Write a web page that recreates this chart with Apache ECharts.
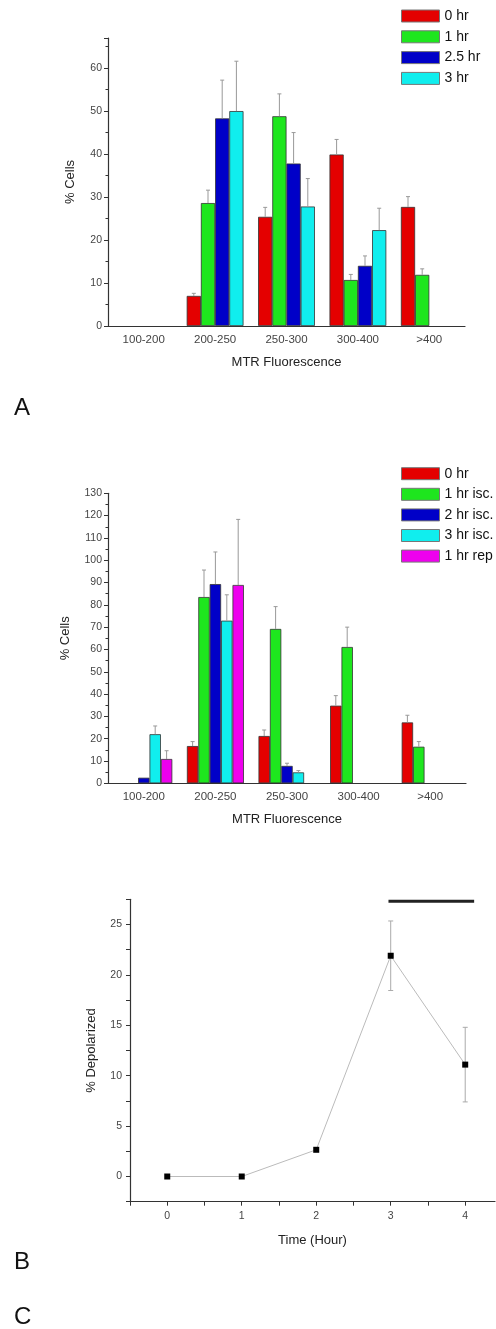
<!DOCTYPE html>
<html><head><meta charset="utf-8">
<script src="https://cdn.jsdelivr.net/npm/echarts@6/dist/echarts.min.js"></script>
<style>html,body{margin:0;padding:0;background:#fff}#c{width:496px;height:1329px}</style>
</head><body><div id="c"></div>
<script>
// ---------- DATA ----------
const categories = ['100-200', '200-250', '250-300', '300-400', '>400'];

// Panel A
const namesA = ['0 hr', '1 hr', '2.5 hr', '3 hr'];
const a0 = [null, 7.0, 25.4, 39.9, 27.7];
const a1 = [null, 28.6, 48.8, 10.7, 11.9];
const a25 = [null, 48.3, 37.8, 14.0, null];
const a3 = [null, 50.0, 27.8, 22.3, null];
const errA0 = [null, 0.6, 2.2, 3.5, 2.4];
const errA1 = [null, 3.0, 5.2, 1.3, 1.4];
const errA25 = [null, 8.9, 7.2, 2.3, null];
const errA3 = [null, 11.6, 6.5, 5.1, null];

// Panel B
const namesB = ['0 hr', '1 hr isc.', '2 hr isc.', '3 hr isc.', '1 hr rep'];
const b0 = [null, 16.7, 21.2, 34.8, 27.3];
const b1 = [null, 83.5, 69.2, 61.1, 16.4];
const b2 = [2.5, 89.3, 7.8, null, null];
const b3 = [22.0, 72.9, 4.9, null, null];
const bRep = [10.9, 88.9, null, null, null];
const errB0 = [null, 2.0, 2.7, 4.5, 3.2];
const errB1 = [null, 12.1, 10.0, 8.9, 2.3];
const errB2 = [0, 14.4, 1.2, null, null];
const errB3 = [3.7, 11.6, 0.8, null, null];
const errBRep = [3.7, 29.4, null, null, null];

// Panel C
const timeC = [0, 1, 2, 3, 4];
const depolC = [0, 0, 2.65, 21.9, 11.1];
const errC = [0, 0, 0.3, 3.45, 3.7];
const sigBarC = [[2.97, 27.3], [4.12, 27.3]];

// ---------- STYLE ----------
const colorsA = ['#e40000', '#1ee61e', '#0000c8', '#10eeee'];
const colorsB = ['#e40000', '#1ee61e', '#0000c8', '#10eeee', '#ee00ee'];
const FONT = 'Liberation Sans, Arial, sans-serif';
const axisCol = '#333';
const labCol = '#444';

function barSeries(name, data, color, xi, yi, bw) {
  return {
    type: 'bar', name, data, xAxisIndex: xi, yAxisIndex: yi,
    barWidth: bw, barGap: '0%',
    itemStyle: { color, borderColor: '#333', borderWidth: 0.8 },
    emphasis: { disabled: true }, animation: false
  };
}
function errSeries(vals, errs, idx, n, bw, xi, yi) {
  const data = [];
  vals.forEach((v, i) => { if (v != null && errs[i] != null && errs[i] > 0) data.push([i, v, v + errs[i]]); });
  return {
    type: 'custom', xAxisIndex: xi, yAxisIndex: yi, data, clip: false, silent: true, animation: false, z: 3,
    renderItem(params, api) {
      const lo = api.coord([api.value(0), api.value(1)]);
      const hi = api.coord([api.value(0), api.value(2)]);
      const off = (idx - (n - 1) / 2) * bw;
      const x = lo[0] + off;
      return { type: 'group', children: [
        { type: 'line', shape: { x1: x, y1: lo[1], x2: x, y2: hi[1] }, style: { stroke: '#999', lineWidth: 1 } },
        { type: 'line', shape: { x1: x - 2, y1: hi[1], x2: x + 2, y2: hi[1] }, style: { stroke: '#999', lineWidth: 1 } }
      ] };
    }
  };
}

function catAxes(gi) {
  return [
    { type: 'category', gridIndex: gi, data: categories, boundaryGap: true,
      axisLine: { lineStyle: { color: axisCol, width: 1.2 } },
      axisTick: { alignWithLabel: true, length: 4, lineStyle: { color: axisCol } },
      axisLabel: { color: labCol, fontSize: 11.5, fontFamily: FONT, margin: 8 },
      name: 'MTR Fluorescence', nameLocation: 'middle', nameGap: 30,
      nameTextStyle: { color: '#222', fontSize: 13, fontFamily: FONT } },
    { type: 'category', gridIndex: gi, data: categories, boundaryGap: true,
      axisLine: { show: false }, axisLabel: { show: false },
      axisTick: { inside: true, length: 3, lineStyle: { color: axisCol } } }
  ];
}
function valAxis(gi, max, interval, nameGap) {
  return { type: 'value', gridIndex: gi, min: 0, max, interval,
    splitLine: { show: false },
    axisLine: { show: true, lineStyle: { color: axisCol, width: 1.2 } },
    axisTick: { show: true, length: 4, lineStyle: { color: axisCol } },
    minorTick: { show: true, splitNumber: 2, length: 2.5, lineStyle: { color: axisCol } },
    axisLabel: { color: labCol, fontSize: 10.5, fontFamily: FONT, margin: 6,
      formatter: v => (Math.abs(v / interval - Math.round(v / interval)) < 1e-6 ? String(v) : '') },
    name: '% Cells', nameLocation: 'middle', nameGap,
    nameTextStyle: { color: '#222', fontSize: 13, fontFamily: FONT } };
}

const series = [];
const valsA = [a0, a1, a25, a3], errsA = [errA0, errA1, errA25, errA3];
const bwA = 14.2;
namesA.forEach((n, i) => series.push(barSeries(n, valsA[i], colorsA[i], 0, 0, bwA)));
namesA.forEach((n, i) => series.push(errSeries(valsA[i], errsA[i], i, 4, bwA, 0, 0)));
const valsB = [b0, b1, b2, b3, bRep], errsB = [errB0, errB1, errB2, errB3, errBRep];
const bwB = 11.4;
namesB.forEach((n, i) => series.push(barSeries(n, valsB[i], colorsB[i], 2, 1, bwB)));
namesB.forEach((n, i) => series.push(errSeries(valsB[i], errsB[i], i, 5, bwB, 2, 1)));

// Panel C
series.push({
  type: 'line', xAxisIndex: 4, yAxisIndex: 2, data: timeC.map((t, i) => [t, depolC[i]]),
  symbol: 'rect', symbolSize: 6, itemStyle: { color: '#000' },
  lineStyle: { color: '#bbb', width: 1 }, animation: false, z: 4
});
series.push({
  type: 'custom', xAxisIndex: 4, yAxisIndex: 2, clip: false, silent: true, animation: false, z: 3,
  data: timeC.map((t, i) => [t, depolC[i] - errC[i], depolC[i] + errC[i]]).filter((d, i) => errC[i] > 1),
  renderItem(params, api) {
    const lo = api.coord([api.value(0), api.value(1)]);
    const hi = api.coord([api.value(0), api.value(2)]);
    const x = lo[0], s = { stroke: '#aaa', lineWidth: 1 };
    return { type: 'group', children: [
      { type: 'line', shape: { x1: x, y1: lo[1], x2: x, y2: hi[1] }, style: s },
      { type: 'line', shape: { x1: x - 2.5, y1: hi[1], x2: x + 2.5, y2: hi[1] }, style: s },
      { type: 'line', shape: { x1: x - 2.5, y1: lo[1], x2: x + 2.5, y2: lo[1] }, style: s }
    ] };
  }
});
series.push({
  type: 'line', xAxisIndex: 4, yAxisIndex: 2, data: sigBarC, symbol: 'none',
  lineStyle: { color: '#222', width: 3 }, animation: false, silent: true
});

const legendBase = {
  orient: 'vertical', left: 401, padding: 0, icon: 'rect', itemWidth: 38, itemHeight: 12,
  textStyle: { fontSize: 14, color: '#111', fontFamily: FONT }, selectedMode: false,
  itemStyle: { borderColor: '#777', borderWidth: 1 }
};

const option = {
  animation: false,
  textStyle: { fontFamily: FONT },
  grid: [
    { left: 108, right: 31, top: 38, height: 288 },
    { left: 108, right: 30, top: 493.3, height: 290 },
    { left: 130, right: 1, top: 899.3, height: 302.4 }
  ],
  xAxis: [
    ...catAxes(0),
    ...catAxes(1),
    { type: 'value', gridIndex: 2, min: -0.5, max: 4.4, interval: 0.5,
      splitLine: { show: false },
      axisLine: { onZero: false, lineStyle: { color: axisCol, width: 1.2 } },
      axisTick: { length: 4, lineStyle: { color: axisCol } },
      axisLabel: { color: labCol, fontSize: 10.5, fontFamily: FONT, margin: 9, showMaxLabel: false,
        formatter: v => (Math.abs(v - Math.round(v)) < 1e-6 ? String(Math.round(v)) : '') },
      name: 'Time (Hour)', nameLocation: 'middle', nameGap: 32,
      nameTextStyle: { color: '#222', fontSize: 13, fontFamily: FONT } }
  ],
  yAxis: [
    valAxis(0, 67, 10, 31),
    valAxis(1, 130, 10, 36),
    { type: 'value', gridIndex: 2, min: -2.5, max: 27.5, interval: 2.5,
      splitLine: { show: false },
      axisLine: { show: true, onZero: false, lineStyle: { color: axisCol, width: 1.2 } },
      axisTick: { show: true, length: 4, lineStyle: { color: axisCol } },
      axisLabel: { color: labCol, fontSize: 10.5, fontFamily: FONT, margin: 8,
        formatter: v => (Math.abs(v / 5 - Math.round(v / 5)) < 1e-6 ? String(Math.round(v)) : '') },
      name: '% Depolarized', nameLocation: 'middle', nameGap: 32,
      nameTextStyle: { color: '#222', fontSize: 13, fontFamily: FONT } }
  ],
  legend: [
    Object.assign({}, legendBase, { data: namesA, top: 9, itemGap: 6.8 }),
    Object.assign({}, legendBase, { data: namesB, top: 466.7, itemGap: 6.6 })
  ],
  graphic: [
    { type: 'text', left: 14, top: 396, style: { text: 'A', fontSize: 24, fill: '#111', fontFamily: FONT } },
    { type: 'text', left: 14, top: 1250, style: { text: 'B', fontSize: 24, fill: '#111', fontFamily: FONT } },
    { type: 'text', left: 14, top: 1305, style: { text: 'C', fontSize: 24, fill: '#111', fontFamily: FONT } }
  ],
  series
};
const chart = echarts.init(document.getElementById('c'), null, { renderer: 'canvas' });
chart.setOption(option);
</script></body></html>
